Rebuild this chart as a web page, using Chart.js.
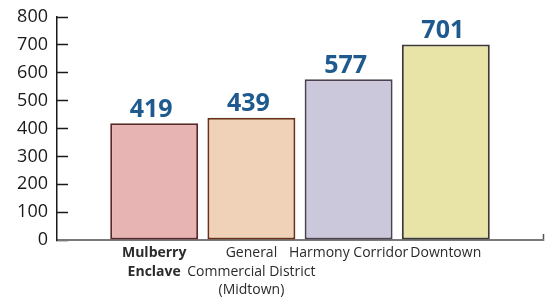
<!DOCTYPE html>
<html>
<head>
<meta charset="utf-8">
<script src="https://cdn.jsdelivr.net/npm/chart.js@4"></script>
<style>
  html, body { margin: 0; padding: 0; background: #ffffff; }
  #wrap { width: 548px; height: 307px; position: relative; }
</style>
</head>
<body>
<div id="wrap"><canvas id="zoneChart"></canvas></div>
<script>
// Chart data (blank slots at both ends leave the gap seen in the original)
const categories = ['', ['Mulberry', 'Enclave'], ['General', 'Commercial District', '(Midtown)'], 'Harmony Corridor', 'Downtown', ''];
const values = [null, 419, 439, 577, 701, null];
const yTicks = [0, 100, 200, 300, 400, 500, 600, 700, 800];

const fillColors = ['#ffffff', '#e8b3b3', '#efd2b8', '#ccc8dc', '#e8e4a7', '#ffffff'];
const edgeColors = ['#ffffff', '#5b2828', '#6a3214', '#4b4150', '#3c3a35', '#ffffff'];

// draws the numbers above each bar
const valueLabels = {
    id: 'valueLabels',
    afterDatasetsDraw(chart) {
        const ctx = chart.ctx;
        const meta = chart.getDatasetMeta(0);
        ctx.save();
        ctx.font = 'bold 25px "Open Sans"';
        ctx.fillStyle = '#1f5a8e';
        ctx.textAlign = 'center';
        ctx.textBaseline = 'bottom';
        meta.data.forEach((bar, i) => {
            if (values[i] == null) return;
            ctx.fillText(String(values[i]), bar.x - 3, bar.y - 1);
        });
        ctx.restore();
    }
};

const zoneChart = new Chart(document.getElementById('zoneChart'), {
    type: 'bar',
    data: {
        labels: categories,
        datasets: [{
            data: values,
            backgroundColor: fillColors,
            borderColor: edgeColors,
            borderWidth: 2,
            borderSkipped: false,
            categoryPercentage: 1,
            barPercentage: 0.905
        }]
    },
    options: {
        responsive: true,
        maintainAspectRatio: false,
        animation: false,
        layout: { padding: { top: 17, right: 5, left: 0, bottom: 0 } },
        plugins: {
            legend: { display: false },
            tooltip: { enabled: false }
        },
        scales: {
            x: {
                offset: false,
                afterFit: (scale) => {
                    scale.height = 67;
                    scale.paddingLeft = 0;
                    scale.paddingRight = 0;
                },
                border: { color: '#7a7a7a', width: 2 },
                grid: {
                    offset: false,
                    drawOnChartArea: false,
                    tickLength: -6,
                    tickWidth: 1.5,
                    color: (c) => c.index === categories.length - 1 ? '#555555' : 'rgba(0,0,0,0)'
                },
                ticks: {
                    autoSkip: false,
                    maxRotation: 0,
                    minRotation: 0,
                    padding: 10,
                    color: '#2b2b2b',
                    font: (c) => ({
                        family: '"Open Sans"',
                        size: 14,
                        lineHeight: 1.32,
                        weight: c.index === 1 ? 'bold' : 'normal'
                    })
                }
            },
            y: {
                min: 0,
                max: 800,
                afterFit: (scale) => {
                    scale.width = 57;
                    // labels sit outside the tick marks; don't let that padding shrink the plot
                    scale.paddingTop = 0;
                    scale.paddingBottom = 0;
                },
                afterBuildTicks: (scale) => { scale.ticks = yTicks.map(v => ({ value: v })); },
                border: { color: '#1a1a1a', width: 1.5 },
                grid: {
                    drawOnChartArea: false,
                    tickLength: -11,
                    tickWidth: 1.5,
                    color: '#1a1a1a'
                },
                ticks: {
                    padding: 20,
                    color: '#1a1a1a',
                    font: { family: '"Open Sans"', size: 18 }
                }
            }
        }
    },
    plugins: [valueLabels]
});
</script>
</body>
</html>
